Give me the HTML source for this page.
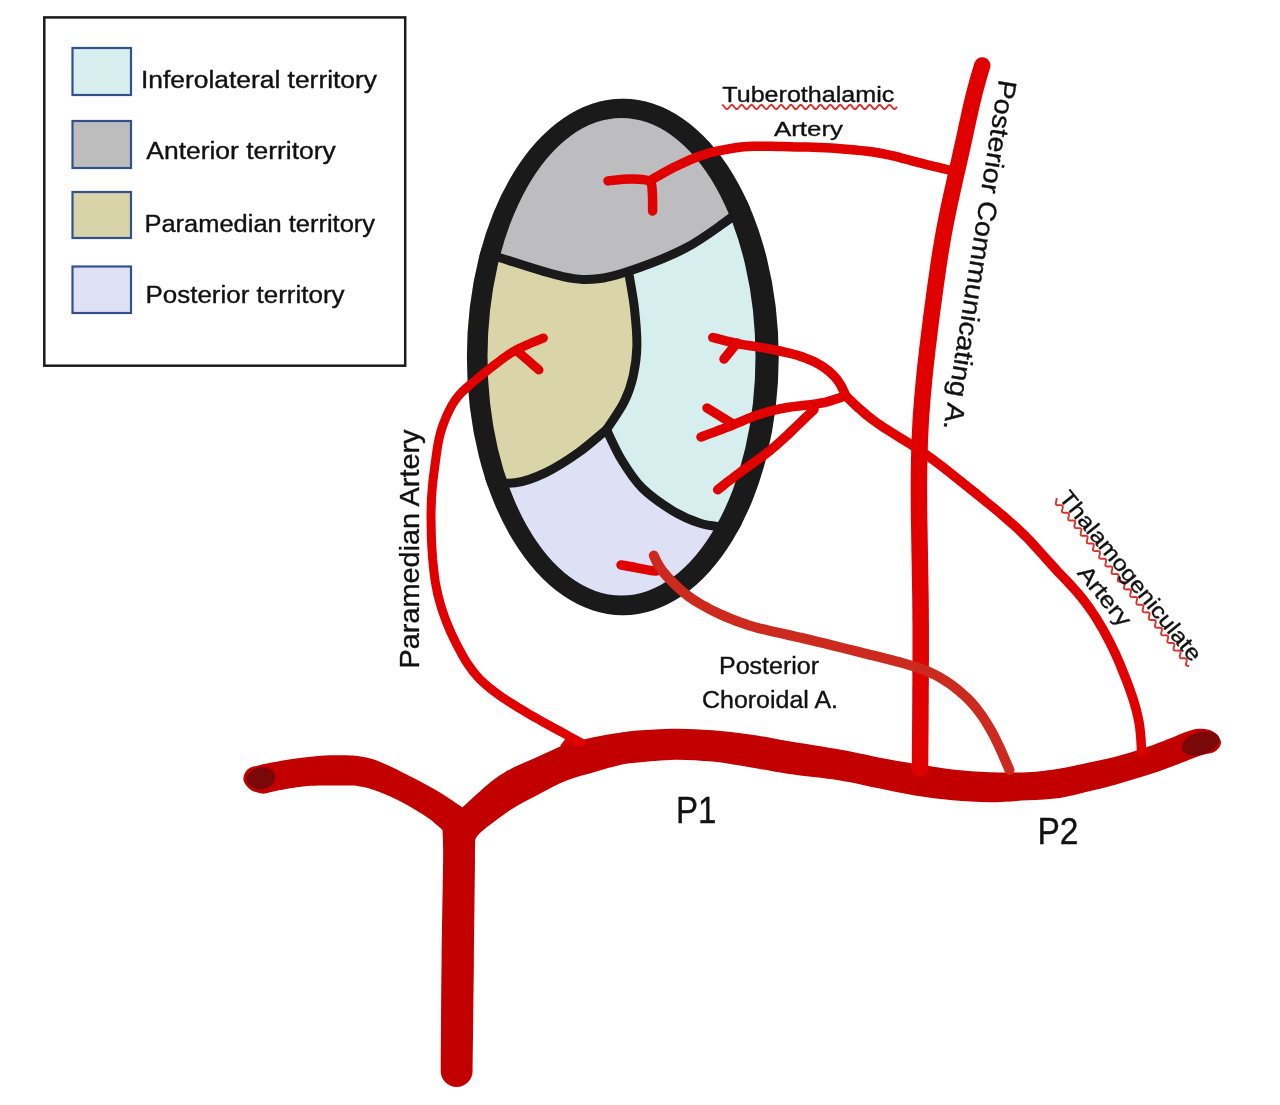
<!DOCTYPE html>
<html><head><meta charset="utf-8">
<style>
html,body{margin:0;padding:0;background:#fff;}
body{width:1280px;height:1105px;overflow:hidden;}
svg{display:block;will-change:transform;}
text{font-family:"Liberation Sans",sans-serif;fill:#111;stroke:#111;stroke-width:0.35px;}
</style></head><body>
<svg width="1280" height="1105" viewBox="0 0 1280 1105">
<defs>
<clipPath id="ell"><path d="M 466.90 357.00 A 155.90 258.20 0 1 0 778.70 357.00 A 155.90 258.20 0 1 0 466.90 357.00 Z"/></clipPath>
</defs>
<!-- legend -->
<g id="legend">
<rect x="44.3" y="17.4" width="360.9" height="348.3" fill="none" stroke="#1a1a1a" stroke-width="2.5"/>
<rect x="72.5" y="48" width="58.5" height="47" fill="#d9efef" stroke="#33518f" stroke-width="2.2"/>
<rect x="72.5" y="121" width="58.5" height="47" fill="#bdbdbe" stroke="#33518f" stroke-width="2.2"/>
<rect x="72.5" y="192" width="58.5" height="46" fill="#d8d4aa" stroke="#33518f" stroke-width="2.2"/>
<rect x="72.5" y="266.5" width="58.5" height="46.5" fill="#dfe2f6" stroke="#33518f" stroke-width="2.2"/>
<text id="t1" x="141" y="88.4" font-size="23" textLength="236" lengthAdjust="spacingAndGlyphs">Inferolateral territory</text>
<text id="t2" x="146.3" y="158.5" font-size="23" textLength="189.5" lengthAdjust="spacingAndGlyphs">Anterior territory</text>
<text id="t3" x="144.5" y="231.6" font-size="23" textLength="230.5" lengthAdjust="spacingAndGlyphs">Paramedian territory</text>
<text id="t4" x="145.5" y="303.3" font-size="23" textLength="199" lengthAdjust="spacingAndGlyphs">Posterior territory</text>
</g>

<!-- thalamus ellipse -->
<g clip-path="url(#ell)">
<rect x="440" y="90" width="360" height="540" fill="#d6eeee"/>
<path d="M 430 80 L 820 80 L 820 195 L 760 195 C 754.0 199.7 736.3 214.2 723.9 223.0 C 711.5 231.8 699.4 240.8 685.6 248.1 C 671.8 255.4 655.3 261.9 641.0 267.0 C 626.7 272.1 613.0 276.9 600.0 278.5 C 587.0 280.1 579.5 280.0 563.0 276.6 C 546.5 273.2 515.0 262.4 500.8 258.0 C 486.6 253.6 481.8 251.3 478.0 250.0 L 430 250 Z" fill="#bdbdbf"/>
<path d="M 430 250 L 478 250 C 481.8 251.3 486.6 253.6 500.8 258.0 C 515.0 262.4 546.5 273.2 563.0 276.6 C 579.5 280.0 593.8 278.2 600.0 278.5 L 629.3 276 C 630.1 281.3 633.1 296.3 634.4 308.0 C 635.7 319.7 637.1 334.6 636.9 346.0 C 636.7 357.4 635.2 367.1 633.1 376.4 C 631.0 385.7 628.6 392.8 624.2 401.7 C 619.8 410.6 609.5 425.0 606.5 429.6 C 601.9 433.4 588.8 445.2 578.7 452.4 C 568.6 459.6 556.3 467.5 545.7 472.6 C 535.1 477.7 526.2 481.4 515.3 482.8 C 504.3 484.2 485.9 481.3 480.0 481.0 L 430 481 Z" fill="#d9d5a9"/>
<path d="M 430 481 L 480 481 C 485.9 481.3 504.3 484.2 515.3 482.8 C 526.2 481.4 535.1 477.7 545.7 472.6 C 556.3 467.5 568.6 459.6 578.7 452.4 C 588.8 445.2 601.9 433.4 606.5 429.6 C 609.0 434.7 615.8 450.3 621.7 460.0 C 627.6 469.7 633.5 479.4 642.0 487.8 C 650.5 496.2 662.7 504.7 672.4 510.6 C 682.1 516.5 691.8 520.6 700.2 523.3 C 708.6 526.0 714.7 526.0 723.0 527.0 C 731.3 528.0 745.5 528.7 750.0 529.0 L 820 529 L 820 640 L 430 640 Z" fill="#dee1f6"/>
<g fill="none" stroke="#1a1a1a" stroke-width="9" stroke-linecap="round" stroke-linejoin="round">
<path d="M 478.0 250.0 C 481.8 251.3 486.6 253.6 500.8 258.0 C 515.0 262.4 546.5 273.2 563.0 276.6 C 579.5 280.0 587.0 280.1 600.0 278.5 C 613.0 276.9 626.7 272.1 641.0 267.0 C 655.3 261.9 671.8 255.4 685.6 248.1 C 699.4 240.8 711.5 231.8 723.9 223.0 C 736.3 214.2 754.0 199.7 760.0 195.0"/>
<path d="M 629.3 276.0 C 630.1 281.3 633.1 296.3 634.4 308.0 C 635.7 319.7 637.1 334.6 636.9 346.0 C 636.7 357.4 635.2 367.1 633.1 376.4 C 631.0 385.7 628.6 392.8 624.2 401.7 C 619.8 410.6 609.5 425.0 606.5 429.6"/>
<path d="M 606.5 429.6 C 601.9 433.4 588.8 445.2 578.7 452.4 C 568.6 459.6 556.3 467.5 545.7 472.6 C 535.1 477.7 526.2 481.4 515.3 482.8 C 504.3 484.2 485.9 481.3 480.0 481.0"/>
<path d="M 606.5 429.6 C 609.0 434.7 615.8 450.3 621.7 460.0 C 627.6 469.7 633.5 479.4 642.0 487.8 C 650.5 496.2 662.7 504.7 672.4 510.6 C 682.1 516.5 691.8 520.6 700.2 523.3 C 708.6 526.0 714.7 526.0 723.0 527.0 C 731.3 528.0 745.5 528.7 750.0 529.0"/>
</g>
</g>
<path d="M 466.90 357.00 A 155.90 258.20 0 1 0 778.70 357.00 A 155.90 258.20 0 1 0 466.90 357.00 Z M 487.50 356.75 A 134.00 238.75 0 1 0 755.50 356.75 A 134.00 238.75 0 1 0 487.50 356.75 Z" fill="#1a1a1a" fill-rule="evenodd"/>

<!-- arteries -->
<path d="M 263.2 793.75 C 261.2 793.1 254.3 792.3 251.0 790.0 C 247.7 787.7 244.1 783.4 243.5 780.0 C 242.9 776.6 244.8 772.0 247.5 769.5 C 250.2 767.0 255.1 766.4 259.4 765.2 C 263.7 764.0 268.0 763.3 273.5 762.3 C 279.0 761.3 286.0 759.9 292.2 759.0 C 298.5 758.1 304.7 757.3 311.0 756.7 C 317.3 756.1 323.1 755.5 330.0 755.3 C 336.9 755.1 345.6 755.0 352.5 755.6 C 359.4 756.2 365.0 757.0 371.2 758.8 C 377.5 760.5 382.7 762.9 390.0 766.2 C 397.3 769.6 406.7 774.4 415.0 778.8 C 423.3 783.1 432.1 787.7 440.0 792.5 C 447.9 797.3 458.8 805.0 462.5 807.5 C 466.9 803.5 481.2 789.7 489.2 783.3 C 497.2 776.9 502.1 773.7 510.3 769.2 C 518.5 764.8 529.0 760.8 538.4 756.6 C 547.8 752.4 557.2 747.3 566.6 744.0 C 576.0 740.7 585.8 738.9 594.7 737.0 C 603.6 735.1 612.9 733.8 620.0 732.7 C 627.1 731.6 628.3 731.3 637.5 730.6 C 646.7 729.9 662.5 728.8 675.0 728.8 C 687.5 728.7 700.0 729.3 712.5 730.2 C 725.0 731.2 737.5 732.6 750.0 734.4 C 762.5 736.2 772.5 738.5 787.5 741.0 C 802.5 743.5 825.0 746.9 840.0 749.6 C 855.0 752.3 865.0 754.8 877.5 757.2 C 890.0 759.6 902.5 761.7 915.0 763.8 C 927.5 765.8 940.0 768.0 952.5 769.4 C 965.0 770.8 977.5 771.7 990.0 772.2 C 1002.5 772.7 1015.8 772.8 1027.5 772.2 C 1039.2 771.6 1049.9 770.0 1060.0 768.4 C 1070.1 766.8 1078.7 764.7 1088.1 762.7 C 1097.5 760.7 1106.9 758.9 1116.2 756.4 C 1125.6 753.9 1135.0 751.2 1144.4 748.0 C 1153.8 744.8 1165.5 740.1 1172.5 737.4 C 1179.5 734.7 1182.2 733.2 1186.6 731.8 C 1191.0 730.4 1194.6 728.8 1199.0 728.8 C 1203.4 728.8 1209.3 729.3 1213.0 731.5 C 1216.7 733.7 1220.7 738.7 1221.0 742.0 C 1221.3 745.3 1218.4 749.2 1215.0 751.5 C 1211.6 753.8 1207.7 753.0 1200.6 755.5 C 1193.5 758.0 1181.9 762.8 1172.5 766.2 C 1163.1 769.7 1153.8 773.1 1144.4 776.1 C 1135.0 779.1 1125.6 781.9 1116.2 784.5 C 1106.9 787.1 1097.5 789.4 1088.1 791.6 C 1078.7 793.8 1070.1 796.5 1060.0 797.9 C 1049.9 799.3 1039.2 799.6 1027.5 800.3 C 1015.8 801.0 1002.5 802.2 990.0 802.2 C 977.5 802.2 965.0 801.4 952.5 800.3 C 940.0 799.2 927.5 797.6 915.0 795.6 C 902.5 793.6 890.0 790.6 877.5 788.1 C 865.0 785.6 855.0 782.9 840.0 780.5 C 825.0 778.1 802.5 776.0 787.5 773.8 C 772.5 771.5 762.5 769.2 750.0 767.2 C 737.5 765.2 725.0 762.9 712.5 761.6 C 700.0 760.4 687.5 759.6 675.0 759.7 C 662.5 759.9 646.7 761.6 637.5 762.5 C 628.3 763.4 627.1 763.4 620.0 765.0 C 612.9 766.6 603.6 769.4 594.7 772.0 C 585.8 774.6 576.0 776.8 566.6 780.5 C 557.2 784.2 547.8 789.6 538.4 794.5 C 529.0 799.4 519.7 803.9 510.3 810.0 C 500.9 816.1 488.1 826.1 482.2 831.0 C 476.3 835.9 476.4 838.1 475.2 839.5 C 475.2 842.9 475.2 839.9 475.0 860.0 C 474.8 880.1 474.3 924.8 473.9 960.0 C 473.5 995.2 472.8 1052.5 472.6 1071.0 A 15.95 15.95 0 0 1 440.7 1071 C 440.8 1052.5 441.1 995.2 441.6 960.0 C 442.0 924.8 442.9 881.7 443.1 860.0 C 443.3 838.3 442.6 835.0 442.5 830.0 C 440.0 827.9 434.2 822.1 427.5 817.5 C 420.8 812.9 410.8 806.9 402.5 802.5 C 394.2 798.1 384.8 794.0 377.5 791.2 C 370.2 788.5 365.0 787.2 358.8 786.2 C 352.5 785.3 348.0 785.7 340.0 785.6 C 332.0 785.5 319.0 785.4 311.0 785.8 C 303.0 786.2 298.5 787.2 292.2 788.1 C 286.0 789.0 278.3 790.5 273.5 791.4 C 268.7 792.3 264.9 793.4 263.2 793.8 Z" fill="#c30000"/>
<ellipse cx="261" cy="778.3" rx="14.5" ry="10.9" fill="#7a0808" transform="rotate(-10 261 778.3)"/>
<ellipse cx="1200.6" cy="743.5" rx="19.5" ry="11.3" fill="#7a0808" transform="rotate(-18 1200.6 743.5)"/>
<g fill="none" stroke="#e00000" stroke-linecap="round" stroke-linejoin="round">
<path d="M 982.2 65.5 L 980.5 71.3 L 978.8 77.0 L 977.2 82.8 L 975.6 88.6 L 974.1 94.4 L 972.7 100.2 L 971.3 106.0 L 970.0 111.9 L 968.7 117.8 L 967.4 123.6 L 966.1 129.5 L 964.9 135.3 L 963.6 141.2 L 962.3 147.1 L 961.0 152.9 L 959.7 158.8 L 958.4 164.6 L 957.0 170.5 L 955.7 176.3 L 954.4 182.2 L 953.1 188.0 L 951.8 193.9 L 950.5 199.8 L 949.2 205.6 L 948.0 211.5 L 946.8 217.4 L 945.6 223.3 L 944.5 229.1 L 943.4 235.0 L 942.4 240.9 L 941.4 246.9 L 940.4 252.8 L 939.5 258.7 L 938.6 264.6 L 937.7 270.6 L 936.9 276.5 L 936.0 282.5 L 935.2 288.4 L 934.4 294.4 L 933.6 300.3 L 932.8 306.2 L 932.0 312.2 L 931.2 318.1 L 930.5 324.1 L 929.7 330.0 L 929.0 336.0 L 928.3 342.0 L 927.5 347.9 L 926.9 353.9 L 926.2 359.8 L 925.5 365.8 L 924.9 371.8 L 924.3 377.7 L 923.7 383.7 L 923.2 389.7 L 922.6 395.7 L 922.1 401.6 L 921.7 407.6 L 921.2 413.6 L 920.8 419.6 L 920.5 425.6 L 920.2 431.6 L 919.9 437.6 L 919.7 443.6 L 919.5 449.6 L 919.3 455.6 L 919.2 461.6 L 919.1 467.6 L 919.0 473.5 L 919.0 479.5 L 918.9 485.5 L 918.9 491.5 L 919.0 497.5 L 919.0 503.5 L 919.0 509.5 L 919.1 515.5 L 919.2 521.5 L 919.3 527.5 L 919.4 533.5 L 919.5 539.5 L 919.6 545.5 L 919.7 551.5 L 919.8 557.5 L 919.9 563.5 L 920.0 569.5 L 920.1 575.5 L 920.2 581.5 L 920.3 587.5 L 920.4 593.5 L 920.5 599.5 L 920.5 605.5 L 920.6 611.5 L 920.6 617.5 L 920.7 623.5 L 920.7 629.5 L 920.7 635.5 L 920.7 641.5 L 920.7 647.5 L 920.7 653.5 L 920.7 659.5 L 920.6 665.5 L 920.6 671.5 L 920.6 677.5 L 920.6 683.5 L 920.5 689.5 L 920.5 695.5 L 920.5 701.5 L 920.4 707.5 L 920.4 713.5 L 920.4 719.5 L 920.3 725.5 L 920.3 731.5 L 920.2 737.5 L 920.2 743.5 L 920.1 749.4 L 920.1 755.2 L 920.1 760.9 L 920.0 766.6 L 920.0 768.0" stroke-width="16.5"/>
<path d="M 560 746 L 566 738 L 584 740 L 594 744 Z" fill="#d00000" stroke="none"/>
<path d="M 949.0 170.0 L 943.2 168.6 L 937.3 167.2 L 931.5 165.8 L 925.7 164.4 L 919.9 162.9 L 914.0 161.4 L 908.3 159.8 L 902.5 158.3 L 896.7 156.7 L 890.8 155.3 L 885.0 154.1 L 879.1 153.0 L 873.1 152.0 L 867.2 151.3 L 861.2 150.6 L 855.3 150.0 L 849.3 149.4 L 843.3 148.9 L 837.3 148.5 L 831.4 148.0 L 825.4 147.7 L 819.4 147.4 L 813.4 147.2 L 807.4 147.1 L 801.4 147.0 L 795.4 146.9 L 789.4 146.7 L 783.4 146.6 L 777.4 146.4 L 771.4 146.3 L 765.4 146.2 L 759.4 146.2 L 753.4 146.2 L 747.4 146.5 L 741.4 147.0 L 735.5 147.8 L 729.6 148.8 L 723.7 149.9 L 717.8 151.0 L 711.9 152.3 L 706.2 153.9 L 700.5 155.8 L 694.9 157.9 L 689.3 160.2 L 683.9 162.6 L 678.4 165.2 L 673.0 167.8 L 667.7 170.6 L 662.5 173.5 L 657.4 176.4 L 652.7 179.2 L 649.3 181.2" stroke-width="9.5"/>
<path d="M 608.0 180.9 C 611.8 180.6 624.1 178.9 631.0 179.0 C 637.9 179.1 645.8 179.0 649.3 181.2 C 652.8 183.4 651.8 187.3 652.3 192.3 C 652.8 197.3 652.5 207.9 652.6 211.0" stroke-width="9.5"/>
<path d="M 581.0 743.0 L 575.8 740.0 L 570.6 737.1 L 565.3 734.1 L 560.1 731.2 L 554.8 728.4 L 549.5 725.5 L 544.3 722.7 L 539.0 719.7 L 533.8 716.8 L 528.6 713.8 L 523.5 710.7 L 518.3 707.6 L 513.2 704.4 L 508.2 701.2 L 503.2 697.9 L 498.2 694.5 L 493.4 690.9 L 488.7 687.2 L 484.2 683.3 L 479.8 679.2 L 475.8 674.8 L 472.1 670.1 L 468.6 665.2 L 465.3 660.2 L 462.3 655.0 L 459.4 649.7 L 456.6 644.4 L 454.0 639.0 L 451.4 633.6 L 449.0 628.1 L 446.7 622.6 L 444.6 617.0 L 442.6 611.3 L 440.8 605.6 L 439.2 599.8 L 437.7 594.0 L 436.5 588.1 L 435.4 582.2 L 434.5 576.3 L 433.8 570.4 L 433.2 564.4 L 432.6 558.4 L 432.2 552.4 L 431.8 546.4 L 431.5 540.5 L 431.3 534.5 L 431.2 528.5 L 431.1 522.5 L 431.0 516.5 L 431.1 510.5 L 431.3 504.5 L 431.5 498.5 L 431.9 492.5 L 432.4 486.5 L 433.0 480.5 L 433.7 474.6 L 434.5 468.6 L 435.3 462.7 L 436.1 456.7 L 436.9 450.8 L 437.8 444.9 L 439.0 439.0 L 440.4 433.2 L 442.1 427.5 L 444.2 421.8 L 446.4 416.3 L 449.0 410.8 L 451.8 405.5 L 454.9 400.5 L 458.6 395.8 L 462.6 391.4 L 467.0 387.4 L 471.6 383.4 L 476.2 379.6 L 480.8 375.8 L 485.5 372.0 L 490.2 368.3 L 494.9 364.6 L 499.7 361.0 L 504.5 357.4 L 509.4 354.0 L 514.5 350.9 L 519.8 348.1 L 525.3 345.6 L 530.8 343.2 L 536.1 341.0 L 541.0 339.0 L 543.4 338.0" stroke-width="9"/>
<path d="M 516 350 L 539 370" stroke-width="9"/>
<path d="M 1141.6 752.0 L 1141.3 746.0 L 1141.0 740.0 L 1140.5 734.1 L 1139.9 728.1 L 1139.0 722.2 L 1137.8 716.4 L 1136.4 710.6 L 1134.8 704.8 L 1133.1 699.1 L 1131.2 693.4 L 1129.2 687.7 L 1127.1 682.1 L 1124.9 676.5 L 1122.7 670.9 L 1120.5 665.4 L 1118.1 659.9 L 1115.7 654.4 L 1113.1 649.0 L 1110.5 643.6 L 1107.7 638.3 L 1104.9 633.0 L 1102.0 627.8 L 1098.9 622.6 L 1095.8 617.5 L 1092.5 612.5 L 1089.1 607.5 L 1085.6 602.7 L 1081.9 598.0 L 1078.1 593.4 L 1074.1 588.9 L 1070.1 584.5 L 1066.0 580.1 L 1061.8 575.8 L 1057.7 571.4 L 1053.7 567.0 L 1049.6 562.5 L 1045.6 558.1 L 1041.6 553.6 L 1037.6 549.1 L 1033.6 544.7 L 1029.5 540.3 L 1025.3 536.0 L 1021.0 531.8 L 1016.7 527.7 L 1012.2 523.7 L 1007.7 519.8 L 1003.2 515.9 L 998.6 512.0 L 994.0 508.2 L 989.3 504.4 L 984.7 500.6 L 980.0 496.8 L 975.4 493.0 L 970.7 489.2 L 966.0 485.5 L 961.3 481.7 L 956.6 478.0 L 951.9 474.3 L 947.2 470.5 L 942.5 466.8 L 937.8 463.2 L 933.0 459.6 L 928.1 456.0 L 923.3 452.5 L 918.3 449.2 L 913.3 445.9 L 908.2 442.7 L 903.1 439.6 L 898.0 436.4 L 892.9 433.3 L 887.8 430.1 L 882.8 426.9 L 877.8 423.5 L 873.0 420.0 L 868.2 416.3 L 863.7 412.5 L 859.3 408.7 L 855.0 404.7 L 850.9 400.8 L 846.8 396.8 L 845.8 395.8" stroke-width="9.5"/>
<path d="M 845.8 395.8 L 843.4 390.3 L 840.7 385.0 L 837.4 380.0 L 833.6 375.5 L 829.2 371.4 L 824.4 367.8 L 819.4 364.6 L 814.1 361.7 L 808.6 359.3 L 803.0 357.1 L 797.3 355.3 L 791.6 353.7 L 785.7 352.3 L 779.9 351.0 L 774.0 349.8 L 768.1 348.6 L 762.2 347.6 L 756.3 346.6 L 750.3 345.8 L 744.4 344.9 L 738.5 343.8 L 732.7 342.5 L 726.8 341.1 L 721.1 339.7 L 715.5 338.2 L 712.8 337.5" stroke-width="9.5"/>
<path d="M 737 343 L 724 359" stroke-width="9.5"/>
<path d="M 845.8 395.8 L 840.1 397.7 L 834.4 399.6 L 828.7 401.4 L 822.9 402.8 L 817.0 403.8 L 811.0 404.6 L 805.1 405.3 L 799.1 405.9 L 793.2 406.6 L 787.2 407.5 L 781.3 408.6 L 775.5 409.9 L 769.6 411.3 L 763.9 413.0 L 758.2 414.8 L 752.5 416.8 L 746.9 419.0 L 741.4 421.4 L 735.9 423.7 L 730.3 426.0 L 724.8 428.1 L 719.1 430.3 L 713.5 432.4 L 707.9 434.4 L 702.4 436.5 L 701.0 437.0" stroke-width="9.5"/>
<path d="M 733 424 L 707 408" stroke-width="9.5"/>
<path d="M 814.0 409.5 L 809.7 413.7 L 805.4 417.8 L 801.0 422.0 L 796.7 426.2 L 792.4 430.3 L 788.1 434.5 L 783.7 438.6 L 779.3 442.6 L 774.7 446.6 L 770.1 450.4 L 765.4 454.1 L 760.6 457.7 L 755.7 461.2 L 750.9 464.7 L 746.0 468.2 L 741.1 471.7 L 736.3 475.3 L 731.6 478.9 L 726.8 482.6 L 722.2 486.2 L 717.7 489.7" stroke-width="9.5"/>
<path d="M 621 565 C 635 567 645 570 656 571" stroke-width="9.5"/>
</g>
<path d="M 1009.5 770.0 L 1007.1 764.5 L 1004.7 759.0 L 1002.3 753.5 L 999.9 748.0 L 997.3 742.6 L 994.7 737.2 L 991.9 731.9 L 988.9 726.7 L 985.8 721.6 L 982.5 716.6 L 979.0 711.7 L 975.3 707.0 L 971.4 702.5 L 967.2 698.2 L 962.8 694.1 L 958.3 690.2 L 953.6 686.5 L 948.7 683.0 L 943.7 679.8 L 938.5 676.7 L 933.2 673.9 L 927.8 671.4 L 922.2 669.2 L 916.6 667.2 L 910.9 665.4 L 905.1 663.7 L 899.3 662.2 L 893.5 660.7 L 887.7 659.2 L 881.9 657.7 L 876.1 656.2 L 870.3 654.8 L 864.4 653.3 L 858.6 651.8 L 852.8 650.4 L 847.0 649.0 L 841.1 647.5 L 835.3 646.1 L 829.5 644.6 L 823.7 643.2 L 817.8 641.8 L 812.0 640.3 L 806.2 639.0 L 800.3 637.6 L 794.5 636.3 L 788.6 635.0 L 782.8 633.7 L 776.9 632.4 L 771.0 631.1 L 765.2 629.7 L 759.4 628.3 L 753.6 626.7 L 747.8 625.0 L 742.2 623.1 L 736.5 621.0 L 731.0 618.8 L 725.4 616.5 L 719.9 614.1 L 714.5 611.6 L 709.2 608.9 L 703.9 606.0 L 698.7 603.0 L 693.6 599.8 L 688.7 596.4 L 684.0 592.7 L 679.4 588.8 L 675.1 584.7 L 670.8 580.5 L 666.7 576.1 L 662.9 571.6 L 659.6 566.8 L 656.7 561.8 L 654.4 556.8 L 653.8 555.5" fill="none" stroke="#cc2a1f" stroke-width="10" stroke-linecap="round"/>

<!-- labels -->
<text id="t5" x="722.3" y="101.6" font-size="22" textLength="172" lengthAdjust="spacingAndGlyphs">Tuberothalamic</text>
<path d="M 722.00 104.80 L 723.23 105.45 L 724.46 107.00 L 725.70 108.56 L 726.93 109.20 L 728.16 108.55 L 729.39 106.99 L 730.63 105.44 L 731.86 104.80 L 733.09 105.45 L 734.32 107.02 L 735.56 108.57 L 736.79 109.20 L 738.02 108.54 L 739.25 106.98 L 740.49 105.43 L 741.72 104.80 L 742.95 105.46 L 744.18 107.03 L 745.42 108.58 L 746.65 109.20 L 747.88 108.53 L 749.11 106.96 L 750.35 105.42 L 751.58 104.80 L 752.81 105.47 L 754.04 107.04 L 755.27 108.59 L 756.51 109.20 L 757.74 108.52 L 758.97 106.95 L 760.20 105.41 L 761.44 104.80 L 762.67 105.48 L 763.90 107.05 L 765.13 108.59 L 766.37 109.20 L 767.60 108.51 L 768.83 106.94 L 770.06 105.40 L 771.30 104.80 L 772.53 105.49 L 773.76 107.07 L 774.99 108.60 L 776.23 109.20 L 777.46 108.50 L 778.69 106.93 L 779.92 105.39 L 781.15 104.80 L 782.39 105.50 L 783.62 107.08 L 784.85 108.61 L 786.08 109.20 L 787.32 108.49 L 788.55 106.91 L 789.78 105.38 L 791.01 104.80 L 792.25 105.51 L 793.48 107.09 L 794.71 108.62 L 795.94 109.20 L 797.18 108.48 L 798.41 106.90 L 799.64 105.37 L 800.87 104.80 L 802.11 105.52 L 803.34 107.11 L 804.57 108.63 L 805.80 109.20 L 807.04 108.48 L 808.27 106.89 L 809.50 105.37 L 810.73 104.80 L 811.96 105.53 L 813.20 107.12 L 814.43 108.64 L 815.66 109.20 L 816.89 108.47 L 818.13 106.87 L 819.36 105.36 L 820.59 104.80 L 821.82 105.54 L 823.06 107.13 L 824.29 108.65 L 825.52 109.20 L 826.75 108.46 L 827.99 106.86 L 829.22 105.35 L 830.45 104.80 L 831.68 105.55 L 832.92 107.14 L 834.15 108.66 L 835.38 109.20 L 836.61 108.45 L 837.85 106.85 L 839.08 105.34 L 840.31 104.81 L 841.54 105.56 L 842.77 107.16 L 844.01 108.66 L 845.24 109.19 L 846.47 108.44 L 847.70 106.84 L 848.94 105.33 L 850.17 104.81 L 851.40 105.57 L 852.63 107.17 L 853.87 108.67 L 855.10 109.19 L 856.33 108.43 L 857.56 106.82 L 858.80 105.32 L 860.03 104.81 L 861.26 105.58 L 862.49 107.18 L 863.73 108.68 L 864.96 109.19 L 866.19 108.42 L 867.42 106.81 L 868.65 105.32 L 869.89 104.81 L 871.12 105.59 L 872.35 107.20 L 873.58 108.69 L 874.82 109.19 L 876.05 108.41 L 877.28 106.80 L 878.51 105.31 L 879.75 104.81 L 880.98 105.60 L 882.21 107.21 L 883.44 108.70 L 884.68 109.19 L 885.91 108.40 L 887.14 106.79 L 888.37 105.30 L 889.61 104.81 L 890.84 105.61 L 892.07 107.22 L 893.30 108.71 L 894.54 109.19 L 895.77 108.39 L 897.00 106.77" fill="none" stroke="#e0302c" stroke-width="1.9"/>
<text id="t6" x="774" y="135.9" font-size="21" textLength="69" lengthAdjust="spacingAndGlyphs">Artery</text>
<text id="t7" x="719" y="674.4" font-size="23.5" textLength="100" lengthAdjust="spacingAndGlyphs">Posterior</text>
<text id="t8" x="702" y="708.1" font-size="23.5" textLength="136" lengthAdjust="spacingAndGlyphs">Choroidal A.</text>
<text id="t9" x="676" y="822.8" font-size="37" textLength="40.5" lengthAdjust="spacingAndGlyphs">P1</text>
<text id="t10" x="1037.5" y="844.4" font-size="37" textLength="41" lengthAdjust="spacingAndGlyphs">P2</text>
<text id="t11" transform="translate(418.6 668.5) rotate(-90)" font-size="28.5" textLength="239" lengthAdjust="spacingAndGlyphs">Paramedian Artery</text>
<text id="t12" transform="translate(999 79) rotate(99)" font-size="26" textLength="354" lengthAdjust="spacingAndGlyphs">Posterior Communicating A.</text>
<g transform="translate(1058 498) rotate(51)">
<path d="M -1.00 1.30 L 0.24 1.95 L 1.47 3.52 L 2.71 5.07 L 3.95 5.70 L 5.18 5.03 L 6.42 3.45 L 7.66 1.90 L 8.90 1.30 L 10.13 2.00 L 11.37 3.58 L 12.61 5.12 L 13.84 5.70 L 15.08 4.98 L 16.32 3.39 L 17.55 1.86 L 18.79 1.30 L 20.03 2.04 L 21.27 3.64 L 22.50 5.16 L 23.74 5.69 L 24.98 4.93 L 26.21 3.32 L 27.45 1.82 L 28.69 1.31 L 29.92 2.09 L 31.16 3.71 L 32.40 5.20 L 33.64 5.69 L 34.87 4.88 L 36.11 3.26 L 37.35 1.78 L 38.58 1.32 L 39.82 2.14 L 41.06 3.77 L 42.29 5.24 L 43.53 5.68 L 44.77 4.83 L 46.01 3.19 L 47.24 1.74 L 48.48 1.32 L 49.72 2.19 L 50.95 3.84 L 52.19 5.28 L 53.43 5.67 L 54.66 4.78 L 55.90 3.13 L 57.14 1.70 L 58.38 1.33 L 59.61 2.25 L 60.85 3.90 L 62.09 5.32 L 63.32 5.66 L 64.56 4.73 L 65.80 3.07 L 67.03 1.66 L 68.27 1.35 L 69.51 2.30 L 70.75 3.96 L 71.98 5.35 L 73.22 5.65 L 74.46 4.67 L 75.69 3.00 L 76.93 1.63 L 78.17 1.36 L 79.40 2.36 L 80.64 4.03 L 81.88 5.39 L 83.12 5.63 L 84.35 4.62 L 85.59 2.94 L 86.83 1.60 L 88.06 1.38 L 89.30 2.41 L 90.54 4.09 L 91.77 5.42 L 93.01 5.62 L 94.25 4.56 L 95.49 2.88 L 96.72 1.57 L 97.96 1.39 L 99.20 2.47 L 100.43 4.15 L 101.67 5.45 L 102.91 5.60 L 104.14 4.50 L 105.38 2.82 L 106.62 1.54 L 107.86 1.41 L 109.09 2.52 L 110.33 4.21 L 111.57 5.48 L 112.80 5.58 L 114.04 4.45 L 115.28 2.76 L 116.51 1.51 L 117.75 1.43 L 118.99 2.58 L 120.23 4.27 L 121.46 5.51 L 122.70 5.55 L 123.94 4.39 L 125.17 2.70 L 126.41 1.48 L 127.65 1.46 L 128.88 2.64 L 130.12 4.33 L 131.36 5.53 L 132.60 5.53 L 133.83 4.33 L 135.07 2.64 L 136.31 1.46 L 137.54 1.48 L 138.78 2.70 L 140.02 4.39 L 141.25 5.56 L 142.49 5.50 L 143.73 4.27 L 144.97 2.58 L 146.20 1.43 L 147.44 1.51 L 148.68 2.76 L 149.91 4.45 L 151.15 5.58 L 152.39 5.48 L 153.62 4.21 L 154.86 2.52 L 156.10 1.41 L 157.34 1.54 L 158.57 2.82 L 159.81 4.51 L 161.05 5.60 L 162.28 5.45 L 163.52 4.15 L 164.76 2.46 L 165.99 1.39 L 167.23 1.57 L 168.47 2.88 L 169.71 4.57 L 170.94 5.62 L 172.18 5.42 L 173.42 4.08 L 174.65 2.41 L 175.89 1.37 L 177.13 1.60 L 178.36 2.95 L 179.60 4.62 L 180.84 5.63 L 182.08 5.38 L 183.31 4.02 L 184.55 2.35 L 185.79 1.36 L 187.02 1.63 L 188.26 3.01 L 189.50 4.68 L 190.73 5.65 L 191.97 5.35 L 193.21 3.96 L 194.45 2.30 L 195.68 1.35 L 196.92 1.67 L 198.16 3.07 L 199.39 4.73 L 200.63 5.66 L 201.87 5.31 L 203.10 3.90 L 204.34 2.24 L 205.58 1.33 L 206.82 1.70 L 208.05 3.14 L 209.29 4.78 L 210.53 5.67 L 211.76 5.28 L 213.00 3.83" fill="none" stroke="#e0302c" stroke-width="1.9"/>
<text id="t13" x="0" y="0" font-size="22" textLength="212" lengthAdjust="spacingAndGlyphs">Thalamogeniculate</text>
<text id="t14" x="70" y="33" font-size="22.5" textLength="71" lengthAdjust="spacingAndGlyphs">Artery</text>
</g>
</svg>
</body></html>
